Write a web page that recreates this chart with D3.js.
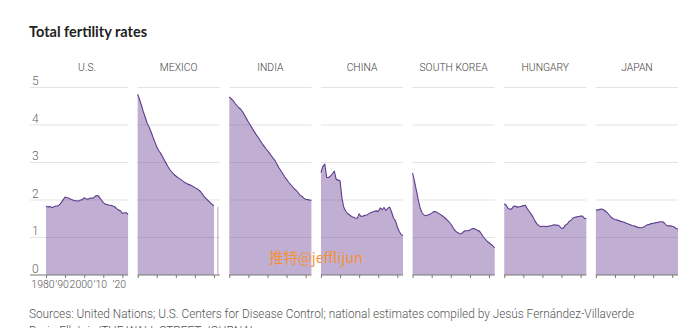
<!DOCTYPE html>
<html>
<head>
<meta charset="utf-8">
<script src="https://cdn.jsdelivr.net/npm/d3@7"></script>
<style>
  body { margin: 0; background: #fff; }
  svg { display: block; }
  .narrow { font-family: "Roboto", "Liberation Sans", sans-serif; }
  .title { font-family: "Lato", "Noto Sans", sans-serif; font-weight: 700; }
</style>
</head>
<body>
<svg id="chart" width="690" height="328"></svg>
<script>
// Total fertility rate by country, 1980–2023 (one value per year; null = no estimate)
const years = d3.range(1980, 2024);
const countries = ["U.S.", "MEXICO", "INDIA", "CHINA", "SOUTH KOREA", "HUNGARY", "JAPAN"];

const usRates = [1.84,1.81,1.83,1.80,1.81,1.84,1.84,1.87,1.93,2.01,
  2.08,2.06,2.05,2.02,2.00,1.98,1.98,1.97,2.00,2.01,
  2.06,2.03,2.02,2.05,2.05,2.06,2.11,2.12,2.07,2.00,
  1.93,1.89,1.88,1.86,1.86,1.84,1.82,1.77,1.73,1.71,
  1.64,1.66,1.66,1.62];
const mexicoRates = [4.82,4.68,4.52,4.35,4.20,4.05,3.95,3.82,3.68,3.55,
  3.42,3.32,3.25,3.16,3.06,2.97,2.88,2.80,2.74,2.68,
  2.64,2.60,2.57,2.53,2.49,2.46,2.43,2.41,2.39,2.36,
  2.33,2.30,2.27,2.22,2.15,2.08,2.03,1.98,1.93,1.88,
  1.85,null,1.82,null];
const indiaRates = [4.75,4.70,4.65,4.58,4.52,4.46,4.42,4.35,4.26,4.17,
  4.08,4.00,3.91,3.83,3.75,3.68,3.60,3.52,3.45,3.38,
  3.32,3.25,3.18,3.11,3.05,2.95,2.86,2.78,2.70,2.62,
  2.55,2.48,2.42,2.36,2.30,2.26,2.20,2.13,2.10,2.05,
  2.02,2.01,2.00,1.99];
const chinaRates = [2.73,2.90,2.96,2.60,2.60,2.64,2.70,2.77,2.55,2.53,
  2.51,2.05,1.80,1.70,1.64,1.60,1.56,1.54,1.52,1.51,
  1.63,1.56,1.57,1.59,1.60,1.63,1.66,1.68,1.70,1.71,
  1.69,1.79,1.74,1.80,1.72,1.78,1.81,1.68,1.52,1.45,
  1.28,1.16,1.08,1.05];
const koreaRates = [2.72,2.50,2.25,2.00,1.78,1.66,1.60,1.58,1.60,1.62,
  1.65,1.69,1.69,1.66,1.63,1.60,1.56,1.52,1.47,1.42,
  1.36,1.28,1.20,1.15,1.12,1.09,1.12,1.17,1.18,1.18,
  1.20,1.23,1.24,1.22,1.19,1.17,1.10,1.02,0.96,0.90,
  0.86,0.82,0.78,0.72];
const hungaryRates = [1.90,1.86,1.78,1.75,1.77,1.84,1.83,1.81,1.82,1.83,
  1.85,1.86,1.77,1.70,1.63,1.55,1.45,1.37,1.32,1.29,
  1.30,1.30,1.29,1.30,1.31,1.32,1.34,1.33,1.33,1.30,
  1.24,1.25,1.33,1.36,1.43,1.46,1.52,1.54,1.55,1.56,
  1.57,1.57,1.51,1.50];
const japanRates = [1.74,1.73,1.75,1.76,1.74,1.70,1.66,1.60,1.54,1.50,
  1.48,1.47,1.45,1.43,1.42,1.40,1.38,1.36,1.34,1.32,
  1.31,1.29,1.27,1.26,1.26,1.28,1.31,1.34,1.35,1.37,
  1.38,1.39,1.40,1.41,1.42,1.42,1.38,1.32,1.31,1.31,
  1.30,1.28,1.24,1.22];

const seriesByCountry = [usRates, mexicoRates, indiaRates, chinaRates, koreaRates, hungaryRates, japanRates];

const yTicks = [0, 1, 2, 3, 4, 5];
const xTicks = [1980, 1990, 2000, 2010, 2020];
const xTickLabels = ["1980", "\u201990", "2000", "\u201910", "\u201920"];

const titleText = "Total fertility rates";
const sourceLines = [
  "Sources: United Nations; U.S. Centers for Disease Control; national estimates compiled by Jes\u00fas Fern\u00e1ndez-Villaverde",
  "Dario Elleteio/THE WALL STREET JOURNAL"
];
const watermark = "\u63a8\u7279@jefflijun";

// squeeze a text horizontally to imitate a condensed face
function condense(sel, k) {
  sel.each(function () {
    const len = this.getComputedTextLength();
    d3.select(this).attr("textLength", len * k).attr("lengthAdjust", "spacingAndGlyphs");
  });
}

// ---- layout ----
const svg = d3.select("#chart");
const axisLeft = 30;

const panel = d3.scaleBand().domain(countries).range([46, 678]).paddingInner(0.104);
const y = d3.scaleLinear().domain([0, 5]).range([275, 87.5]);

const fillColor = "rgba(120, 80, 160, 0.46)";
const lineColor = "#5c3d8c";

svg.append("text")
  .attr("class", "title")
  .attr("x", 29).attr("y", 37)
  .attr("font-size", 14.5)
  .attr("fill", "#222")
  .text(titleText);

// y-axis labels sit just above their gridlines
svg.append("g").selectAll("text")
  .data(yTicks)
  .join("text")
  .attr("class", "narrow")
  .attr("x", 32)
  .attr("y", d => y(d) - 2.5)
  .attr("font-size", 12)
  .attr("font-weight", 300)
  .attr("fill", "#666")
  .text(d => d);

countries.forEach((name, i) => {
  const values = seriesByCountry[i];
  const x0 = panel(name);
  const w = panel.bandwidth();
  const x = d3.scaleLinear().domain([1980, 2023]).range([0, w]);
  const g = svg.append("g").attr("transform", `translate(${x0},0)`);
  const gridStart = i === 0 ? axisLeft - x0 : 0;

  // gridlines
  g.append("g").selectAll("line")
    .data(yTicks.filter(d => d > 0))
    .join("line")
    .attr("x1", gridStart).attr("x2", w)
    .attr("y1", d => y(d)).attr("y2", d => y(d))
    .attr("stroke", "#e3e3e3").attr("stroke-width", 1);

  const pts = years.map((yr, k) => ({ yr, v: values[k] }));
  const defined = d => d.v !== null;

  const area = d3.area()
    .defined(defined)
    .x(d => x(d.yr))
    .y0(y(0))
    .y1(d => y(d.v));
  const line = d3.line()
    .defined(defined)
    .x(d => x(d.yr))
    .y(d => y(d.v));

  g.append("path").datum(pts)
    .attr("d", area)
    .attr("fill", fillColor);

  g.append("path").datum(pts)
    .attr("d", line)
    .attr("fill", "none")
    .attr("stroke", lineColor)
    .attr("stroke-width", 1.1)
    .attr("stroke-linejoin", "round");

  // isolated estimates (no neighbouring years) drawn as thin slivers
  const isolated = pts.filter((d, k) => defined(d) &&
    !(k > 0 && defined(pts[k - 1])) && !(k < pts.length - 1 && defined(pts[k + 1])));
  g.append("g").selectAll("line")
    .data(isolated)
    .join("line")
    .attr("x1", d => x(d.yr)).attr("x2", d => x(d.yr))
    .attr("y1", d => y(d.v)).attr("y2", y(0))
    .attr("stroke", fillColor).attr("stroke-width", 1.2);

  // baseline and decade ticks
  const axis = d3.axisBottom(x).tickValues(xTicks).tickSize(3)
    .tickFormat((d, k) => i === 0 ? xTickLabels[k] : "");
  const ax = g.append("g").attr("transform", `translate(0,${y(0)})`).call(axis);
  ax.attr("font-family", null).attr("font-size", null);
  ax.select(".domain").attr("stroke", "#777").attr("d", `M${gridStart},0H${w}`);
  ax.selectAll(".tick line").attr("stroke", "#777");
  ax.selectAll(".tick text")
    .attr("class", "narrow")
    .attr("font-size", 10.5)
    .attr("font-weight", 300)
    .attr("fill", "#555")
    .attr("dy", "0.95em")
    .attr("dx", -3.5)
    .attr("y", 3.5);

  // panel title
  const t = svg.append("text")
    .attr("class", "narrow")
    .attr("x", x0 + w / 2)
    .attr("y", 71)
    .attr("text-anchor", "middle")
    .attr("font-size", 11.5)
    .attr("font-weight", 300)
    .attr("fill", "#444")
    .text(name);
  condense(t, 0.9);
});

// source note
const src = svg.append("g").selectAll("text")
  .data(sourceLines)
  .join("text")
  .attr("class", "narrow")
  .attr("x", 29)
  .attr("y", (d, k) => 318 + k * 17)
  .attr("font-size", 12.5)
  .attr("font-weight", 300)
  .attr("fill", "#555")
  .text(d => d);
condense(src, 0.945);

svg.append("text")
  .attr("x", 269).attr("y", 262.5)
  .attr("font-family", "'Noto Sans CJK SC', sans-serif")
  .attr("font-size", 14.5)
  .attr("fill", "#f39237")
  .text(watermark);
</script>
</body>
</html>
